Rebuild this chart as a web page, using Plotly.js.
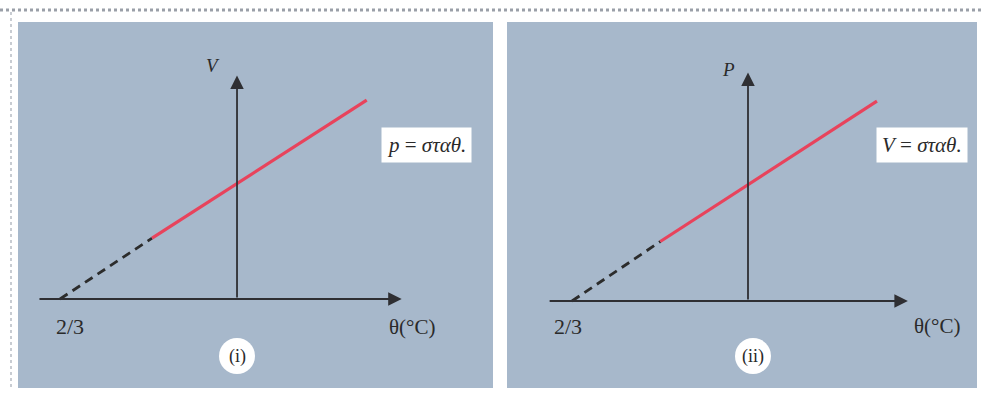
<!DOCTYPE html>
<html>
<head>
<meta charset="utf-8">
<script src="https://cdn.plot.ly/plotly-3.0.1.min.js"></script>
<style>html,body{margin:0;padding:0;background:#fff;}#chart{width:984px;height:394px;}</style>
</head>
<body>
<div id="chart"></div>
<script>
// ---- data (temperature θ in °C, quantity in arbitrary units) ----
const absZero = -273;
const zeroLabel = "2/3";
const xAxisLabel = "θ(°C)";
const panelLabels = ["(i)", "(ii)"];
const yLabels = ["V", "P"];
const conditionLabels = ["<i>p</i> = <i>σταθ.</i>", "<i>V</i> = <i>σταθ.</i>"];

// panel (i): V vs θ at constant p
const dashTheta1 = [-273, -131];
const dashV1 = [0, 0.52];
const solidTheta1 = [-131, 200];
const solidV1 = [0.52, 1.70];

// panel (ii): P vs θ at constant V
const dashTheta2 = [-273, -136];
const dashP2 = [0, 0.50];
const solidTheta2 = [-136, 200];
const solidP2 = [0.50, 1.68];

// axis extents in data units
const xAxisSpan1 = [-307, 254], yAxisTop1 = 1.91;
const xAxisSpan2 = [-310, 248], yAxisTop2 = 1.92;

// ---- layout helpers ----
const W = 984, H = 394;
const px = x => x / W;
const py = y => 1 - y / H;

const bg = "#a7b8cb";
const axisCol = "#2f2f33";
const red = "#e8435c";
const serif = "Liberation Serif, DejaVu Serif, serif";

const traces = [
  {x: dashTheta1, y: dashV1, xaxis: "x", yaxis: "y", mode: "lines",
   line: {color: "#2c2c2c", width: 2.8, dash: "9px,6px"}, hoverinfo: "skip"},
  {x: solidTheta1, y: solidV1, xaxis: "x", yaxis: "y", mode: "lines",
   line: {color: red, width: 3.2}, hoverinfo: "skip"},
  {x: dashTheta2, y: dashP2, xaxis: "x2", yaxis: "y2", mode: "lines",
   line: {color: "#2c2c2c", width: 2.8, dash: "9px,6px"}, hoverinfo: "skip"},
  {x: solidTheta2, y: solidP2, xaxis: "x2", yaxis: "y2", mode: "lines",
   line: {color: red, width: 3.2}, hoverinfo: "skip"}
];

const hidden = {showgrid: false, zeroline: false, showticklabels: false, ticks: "", showline: false, fixedrange: true};

function arrow(xr, yr, x, y, ax, ay) {
  return {xref: xr, yref: yr, axref: xr, ayref: yr, x: x, y: y, ax: ax, ay: ay,
    text: "", showarrow: true, arrowhead: 2, arrowsize: 1.5, arrowwidth: 1.8, arrowcolor: axisCol};
}
function label(x, y, text, size, extra) {
  return Object.assign({xref: "paper", yref: "paper", x: px(x), y: py(y), text: text,
    showarrow: false, xanchor: "center", yanchor: "middle",
    font: {family: serif, size: size, color: "#2a2a2a"}}, extra || {});
}

const annotations = [
  arrow("x", "y", xAxisSpan1[1], 0, xAxisSpan1[0], 0),
  arrow("x", "y", 0, yAxisTop1, 0, 0),
  arrow("x2", "y2", xAxisSpan2[1], 0, xAxisSpan2[0], 0),
  arrow("x2", "y2", 0, yAxisTop2, 0, 0),
  label(213, 66, "<i>" + yLabels[0] + "</i>", 19),
  label(728, 70, "<i>" + yLabels[1] + "</i>", 19),
  label(70, 326, zeroLabel, 22),
  label(568, 326, zeroLabel, 22),
  label(412, 327, xAxisLabel, 21),
  label(937, 326, xAxisLabel, 21),
  label(237, 356, panelLabels[0], 18),
  label(753, 356, panelLabels[1], 18),
  label(426, 145, conditionLabels[0], 21, {bgcolor: "#ffffff", borderpad: 5}),
  label(922, 145, conditionLabels[1], 21, {bgcolor: "#ffffff", borderpad: 5})
];

const shapes = [
  // panel backgrounds
  {type: "rect", xref: "paper", yref: "paper", x0: px(18), x1: px(493), y0: py(388), y1: py(22),
   fillcolor: bg, line: {width: 0}, layer: "below"},
  {type: "rect", xref: "paper", yref: "paper", x0: px(507), x1: px(977), y0: py(388), y1: py(22),
   fillcolor: bg, line: {width: 0}, layer: "below"},
  // dotted frame
  {type: "line", xref: "paper", yref: "paper", x0: 0, x1: 1, y0: py(10), y1: py(10),
   line: {color: "#9a9fa8", width: 3, dash: "dot"}},
  {type: "line", xref: "paper", yref: "paper", x0: px(11), x1: px(11), y0: py(12), y1: py(390),
   line: {color: "#b7bcc4", width: 1.5, dash: "dot"}},
  // white circles behind panel labels
  {type: "circle", xref: "paper", yref: "paper", x0: px(219), x1: px(255), y0: py(374), y1: py(338),
   fillcolor: "#ffffff", line: {width: 0}},
  {type: "circle", xref: "paper", yref: "paper", x0: px(735), x1: px(771), y0: py(374), y1: py(338),
   fillcolor: "#ffffff", line: {width: 0}}
];

const layout = {
  width: W, height: H,
  margin: {l: 0, r: 0, t: 0, b: 0},
  paper_bgcolor: "#ffffff",
  plot_bgcolor: "rgba(0,0,0,0)",
  showlegend: false,
  xaxis: Object.assign({domain: [px(18), px(493)], range: [-337.8, 394.8], anchor: "y"}, hidden),
  yaxis: Object.assign({domain: [py(388), py(22)], range: [-0.761, 2.368], anchor: "x"}, hidden),
  xaxis2: Object.assign({domain: [px(507), px(977)], range: [-373.8, 355.2], anchor: "y2"}, hidden),
  yaxis2: Object.assign({domain: [py(388), py(22)], range: [-0.731, 2.345], anchor: "x2"}, hidden),
  annotations: annotations,
  shapes: shapes
};

Plotly.newPlot("chart", traces, layout, {staticPlot: true, displayModeBar: false});
</script>
</body>
</html>
